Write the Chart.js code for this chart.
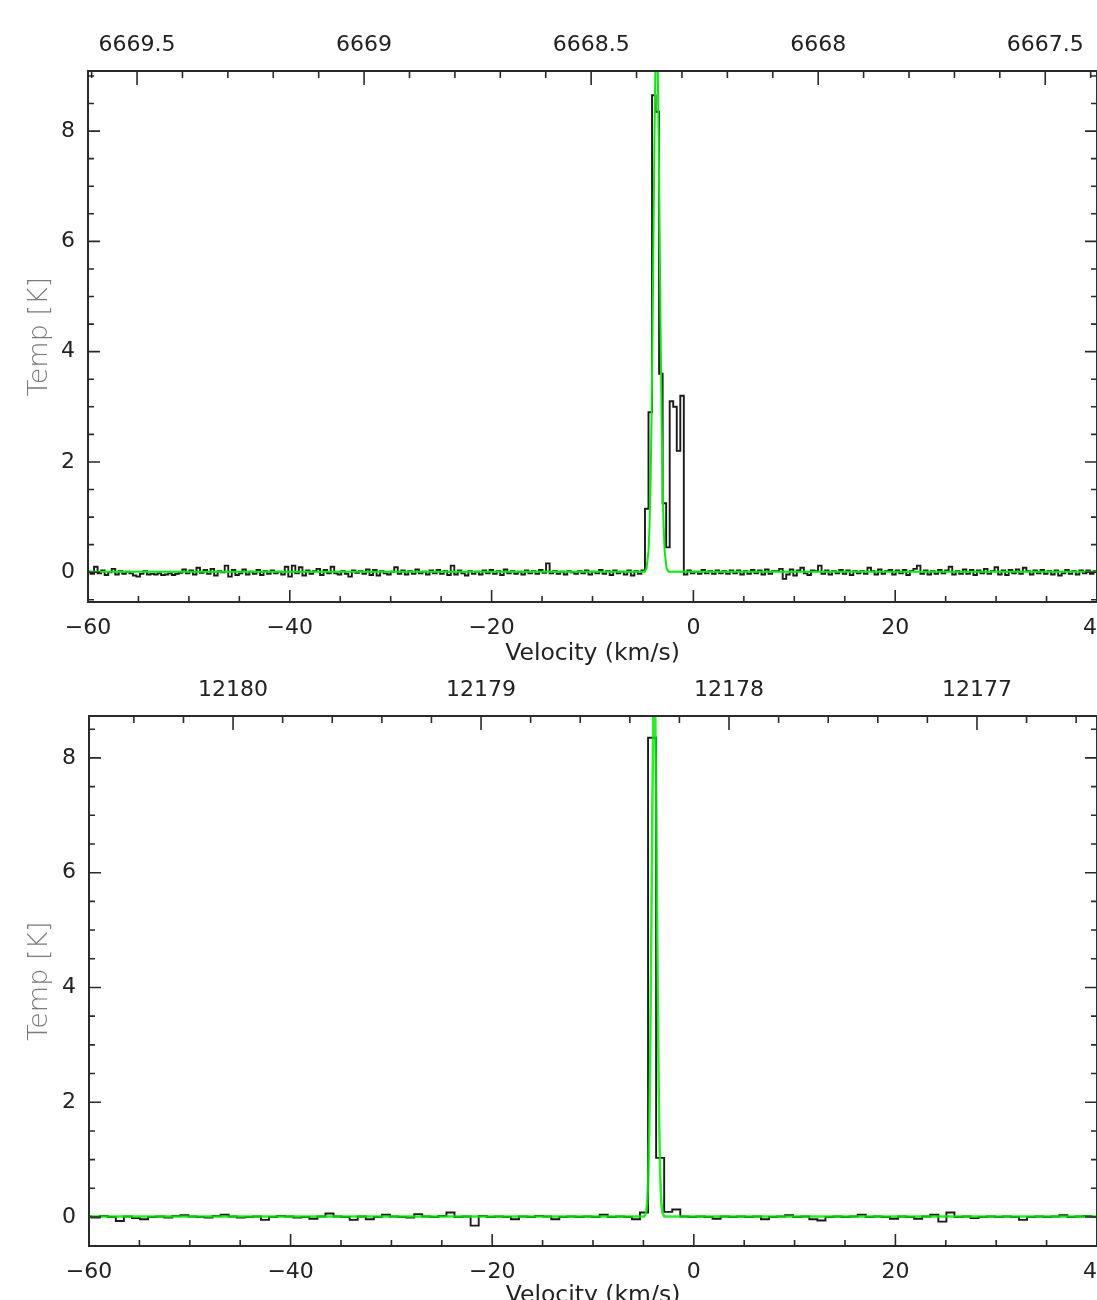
<!DOCTYPE html>
<html>
<head>
<meta charset="utf-8">
<title>Maser spectra</title>
<script src="https://cdn.jsdelivr.net/npm/chart.js@4/dist/chart.umd.min.js"></script>
<style>
  html, body { margin: 0; padding: 0; background: #fff; overflow: hidden; width: 1097px; height: 1300px; }
  canvas { position: absolute; left: 0; }
  #spec6 { top: 0; }
  #spec12 { top: 668px; }
</style>
</head>
<body>
<canvas id="spec6" width="1140" height="668"></canvas>
<canvas id="spec12" width="1140" height="642"></canvas>
<script>
// ---- 6.7 GHz methanol line ----
const topChanStart = -59.925;   // centre of first channel, km/s
const topChanWidth = 0.35;
const topTemps = [
  0.01, -0.03, 0.10, -0.02, 0.03, -0.05, 0.00, 0.06, -0.04, 0.02,
  -0.03, 0.01, -0.02, -0.06, -0.08, -0.03, 0.02, -0.04, -0.03, -0.04,
  -0.02, -0.05, -0.04, -0.02, -0.05, -0.03, -0.01, 0.05, -0.02, 0.03,
  -0.04, 0.08, -0.01, 0.04, -0.03, 0.06, -0.06, 0.02, 0.00, 0.12,
  -0.08, 0.04, -0.05, -0.02, 0.05, -0.04, 0.01, -0.03, 0.04, -0.05,
  0.02, -0.03, 0.03, -0.02, 0.01, -0.04, 0.10, -0.08, 0.12, -0.02,
  0.09, -0.06, 0.03, -0.03, 0.02, 0.06, -0.05, 0.04, -0.02, 0.10,
  -0.02, -0.04, 0.02, -0.03, -0.08, 0.03, -0.01, 0.02, -0.03, 0.05,
  -0.05, 0.04, -0.06, 0.02, -0.02, -0.04, 0.01, 0.09, -0.03, 0.03,
  -0.04, 0.02, -0.03, 0.05, -0.02, 0.01, -0.04, 0.03, -0.02, 0.04,
  -0.03, 0.02, -0.05, 0.12, -0.04, 0.03, -0.02, -0.06, 0.02, -0.03,
  0.01, -0.04, 0.03, -0.02, 0.04, -0.03, 0.02, -0.05, 0.05, -0.02,
  0.02, -0.03, 0.01, -0.04, 0.03, -0.02, 0.02, -0.03, 0.04, -0.01,
  0.16, -0.02, 0.02, -0.03, 0.01, -0.04, 0.02, 0.00, -0.03, 0.02,
  -0.02, 0.03, -0.04, 0.01, -0.02, 0.04, -0.03, 0.02, -0.05, 0.03,
  -0.02, 0.01, -0.04, 0.03, -0.06, 0.02, -0.03, 0.03,
  1.15, 2.90, 8.65, 8.35, 3.60, 1.25, 0.45, 3.10, 3.00, 2.20, 3.20,
  -0.04, 0.03, -0.02, 0.01, -0.03, 0.04, -0.02, 0.02, -0.03, 0.03,
  -0.02, 0.02, -0.03, 0.03, -0.02, 0.03, -0.04, 0.02, -0.03, 0.04,
  -0.02, 0.03, -0.04, 0.05, -0.03, 0.02, 0.02, 0.06, -0.12, -0.04,
  0.05, -0.06, 0.03, 0.08, -0.02, -0.05, 0.03, 0.02, 0.12, -0.03,
  0.03, -0.04, 0.02, -0.02, 0.04, -0.03, 0.03, -0.05, 0.02, -0.02,
  0.02, -0.03, 0.08, 0.02, -0.04, 0.05, -0.03, 0.02, 0.04, -0.04,
  0.03, -0.02, 0.04, -0.05, 0.02, 0.06, 0.12, -0.03, 0.03, -0.04,
  0.02, -0.03, 0.04, -0.02, 0.03, 0.10, -0.04, 0.02, -0.03, 0.05,
  -0.03, 0.04, -0.05, 0.03, -0.02, 0.06, -0.03, 0.02, 0.09, -0.04,
  0.03, -0.05, 0.04, -0.02, 0.05, -0.03, 0.08, 0.02, -0.04, 0.03,
  -0.02, 0.04, -0.03, 0.02, -0.04, 0.03, -0.06, -0.02, 0.04, -0.03,
  0.02, -0.04, 0.03, -0.02, 0.03, -0.03, 0.02, 0.01
];
// gaussian fit, sampled
const topFitVel  = [-60, -4.85, -4.65, -4.45, -4.35, -4.25, -4.15, -4.05, -3.95, -3.85, -3.75, -3.65,
                    -3.55, -3.45, -3.35, -3.25, -3.15, -3.05, -2.95, -2.85, -2.65, -2.45, 40];
const topFitTemp = [0.01, 0.01, 0.06, 0.38, 0.82, 1.58, 2.76, 4.35, 6.21, 8.00, 9.32, 9.80,
                    9.32, 8.00, 6.21, 4.35, 2.76, 1.58, 0.82, 0.38, 0.06, 0.01, 0.01];
const topFreqAtVmin = 6669.608;  // MHz at v = -60
const topFreqAtVmax = 6667.386;  // MHz at v = 40
const topTempRange = [-0.54, 9.09];

// ---- 12.2 GHz methanol line ----
const botChanStart = -60.14;
const botChanWidth = 0.8;
const botTemps = [
  0.01, -0.01, 0.02, 0.00, -0.07, 0.01, -0.02, -0.04, 0.00, 0.01,
  -0.01, 0.02, 0.03, 0.01, 0.00, -0.01, 0.02, 0.04, 0.01, -0.01,
  0.00, 0.01, -0.05, 0.00, 0.02, 0.01, -0.01, 0.00, -0.03, 0.01,
  0.06, 0.01, 0.00, -0.05, 0.01, -0.04, 0.00, 0.04, 0.01, 0.00,
  -0.01, 0.05, 0.01, 0.00, 0.02, 0.08, 0.00, 0.01, -0.15, 0.02,
  0.00, 0.01, 0.00, -0.04, 0.01, 0.00, 0.02, 0.01, -0.04, 0.00,
  0.01, 0.00, 0.01, 0.00, 0.04, 0.00, 0.01, 0.00, -0.04, 0.08,
  8.35, 1.03, 0.09, 0.13, 0.01, 0.00, 0.01, 0.00, -0.03, 0.01,
  0.00, 0.01, 0.00, 0.01, -0.04, 0.00, 0.01, 0.03, 0.00, 0.01,
  -0.04, -0.06, 0.00, 0.01, 0.00, 0.01, 0.04, 0.00, 0.01, 0.00,
  -0.03, 0.01, 0.00, -0.03, 0.01, 0.04, -0.08, 0.08, 0.00, 0.01,
  -0.02, 0.00, 0.01, 0.00, 0.01, 0.00, -0.05, 0.00, 0.01, 0.00,
  0.01, 0.03, 0.00, 0.01, 0.02, 0.00, 0.01
];
const botFitVel  = [-60, -4.92, -4.72, -4.62, -4.52, -4.42, -4.32, -4.22, -4.12, -4.02, -3.92,
                    -3.82, -3.72, -3.62, -3.52, -3.42, -3.32, -3.22, -3.12, -2.92, 40];
const botFitTemp = [0.01, 0.01, 0.08, 0.25, 0.66, 1.48, 2.88, 4.83, 6.99, 8.73, 9.40,
                    8.73, 6.99, 4.83, 2.88, 1.48, 0.66, 0.25, 0.08, 0.01, 0.01];
const botFreqAtVmin = 12180.581;
const botFreqAtVmax = 12176.516;
const botTempRange = [-0.505, 8.73];

const velRange = [-60, 40];

const FONT = "'DejaVu Sans', 'Liberation Sans', sans-serif";
const INK = '#222';

function fmtVel(v) {
  return v < 0 ? '\u2212' + Math.abs(v) : String(v);
}

// inward ticks on all four sides plus the box
function frameTicks(freqMinor, freqMajor) {
  return {
    id: 'frameTicks',
    afterDatasetsDraw(chart) {
      const { ctx, chartArea: a, scales } = chart;
      const { x, x2, y } = scales;
      ctx.save();
      ctx.strokeStyle = '#2a2a2a';
      ctx.lineWidth = 1.6;
      ctx.beginPath();
      const seg = (x0, y0, x1, y1) => { ctx.moveTo(x0, y0); ctx.lineTo(x1, y1); };

      for (let i = Math.ceil(y.min / 0.5); i * 0.5 <= y.max; i++) {
        const py = y.getPixelForValue(i * 0.5);
        const len = i % 4 === 0 ? 12 : 6;
        seg(a.left, py, a.left + len, py);
        seg(a.right, py, a.right - len, py);
      }
      for (let i = Math.ceil(x.min / 5); i * 5 <= x.max; i++) {
        const px = x.getPixelForValue(i * 5);
        const len = i % 4 === 0 ? 12 : 6;
        seg(px, a.bottom, px, a.bottom - len);
      }
      const ratio = Math.round(freqMajor / freqMinor);
      for (let i = Math.ceil(x2.min / freqMinor - 1e-6); i * freqMinor <= x2.max + 1e-9; i++) {
        const px = x2.getPixelForValue(i * freqMinor);
        const len = i % ratio === 0 ? 14 : 7;
        seg(px, a.top, px, a.top + len);
      }
      ctx.stroke();
      ctx.lineWidth = 2;
      ctx.strokeRect(a.left, a.top, a.right - a.left, a.bottom - a.top);
      ctx.restore();
    }
  };
}

function makeSpectrum(id, p) {
  const chanPoints = p.temps.map((t, i) => ({ x: p.chanStart + i * p.chanWidth, y: t }));
  const fitPoints = p.fitVel.map((v, i) => ({ x: v, y: p.fitTemp[i] }));
  const tickFont = { family: FONT, size: 22 };

  return new Chart(document.getElementById(id), {
    type: 'line',
    data: {
      datasets: [
        {
          label: 'fit',
          data: fitPoints,
          borderColor: p.fitColor,
          borderWidth: p.fitWidth,
          pointRadius: 0,
          tension: 0,
          order: 0
        },
        {
          label: 'spectrum',
          data: chanPoints,
          borderColor: '#1a1a1a',
          borderWidth: 1.9,
          pointRadius: 0,
          stepped: 'middle',
          order: 1
        }
      ]
    },
    options: {
      responsive: false,
      devicePixelRatio: 1,
      animation: false,
      events: [],
      layout: { padding: { left: 0, top: 0, right: 43, bottom: 0 } },
      plugins: { legend: { display: false }, tooltip: { enabled: false } },
      scales: {
        x: {
          type: 'linear', position: 'bottom',
          min: velRange[0], max: velRange[1],
          grid: { display: false, drawTicks: false },
          border: { display: false },
          ticks: { stepSize: 20, padding: 13, color: INK, font: tickFont, callback: fmtVel,
                   maxRotation: 0, autoSkip: false, includeBounds: false },
          title: { display: true, text: 'Velocity (km/s)', color: INK,
                   font: { family: FONT, size: 23.5 }, padding: 0 },
          afterFit: s => { s.height = p.bottomH; }
        },
        x2: {
          type: 'linear', position: 'top', reverse: true,
          min: p.freqAtVmax, max: p.freqAtVmin,
          grid: { display: false, drawTicks: false },
          border: { display: false },
          ticks: { stepSize: p.freqMajor, padding: 13, color: INK, font: tickFont,
                   callback: v => String(Math.round(v * 10) / 10),
                   maxRotation: 0, autoSkip: false, includeBounds: false },
          afterFit: s => { s.height = p.topH; }
        },
        y: {
          type: 'linear', position: 'left',
          min: p.tempRange[0], max: p.tempRange[1],
          grid: { display: false, drawTicks: false },
          border: { display: false },
          ticks: { stepSize: 2, padding: 13, color: INK, font: tickFont, includeBounds: false },
          title: { display: true, text: 'Temp [K]', color: '#7a7a7a',
                   font: { family: FONT, size: 27, weight: 200 }, padding: { top: 24, bottom: 0 } },
          afterFit: s => { s.width = p.leftW; }
        }
      }
    },
    plugins: [frameTicks(p.freqMinor, p.freqMajor)]
  });
}

makeSpectrum('spec6', {
  temps: topTemps, chanStart: topChanStart, chanWidth: topChanWidth,
  fitVel: topFitVel, fitTemp: topFitTemp,
  freqAtVmin: topFreqAtVmin, freqAtVmax: topFreqAtVmax,
  freqMinor: 0.1, freqMajor: 0.5,
  tempRange: topTempRange,
  fitColor: '#00f000', fitWidth: 2,
  leftW: 88, topH: 71, bottomH: 66
});

makeSpectrum('spec12', {
  temps: botTemps, chanStart: botChanStart, chanWidth: botChanWidth,
  fitVel: botFitVel, fitTemp: botFitTemp,
  freqAtVmin: botFreqAtVmin, freqAtVmax: botFreqAtVmax,
  freqMinor: 0.2, freqMajor: 1,
  tempRange: botTempRange,
  fitColor: 'rgba(0, 238, 0, 0.85)', fitWidth: 2.5,
  leftW: 89, topH: 48, bottomH: 64
});
</script>
</body>
</html>
